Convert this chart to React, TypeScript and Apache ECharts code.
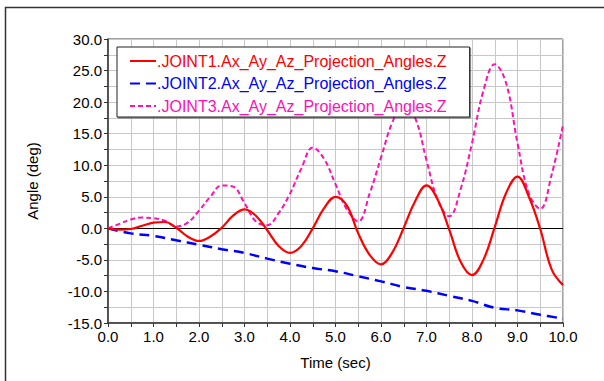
import React, { useEffect, useRef } from "react";
import * as echarts from "echarts";

const times = [0, 0.25, 0.5, 0.75, 1, 1.25, 1.5, 1.75, 2, 2.25, 2.5, 2.75, 3, 3.25, 3.5, 3.75, 4, 4.25, 4.5, 4.75, 5, 5.25, 5.5, 5.75, 6, 6.25, 6.5, 6.75, 7, 7.25, 7.5, 7.75, 8, 8.25, 8.5, 8.75, 9, 9.25, 9.5, 9.75, 10];
const joint1 = [0, -0.2, -0.1, 0.4, 0.9, 1.0, 0.1, -1.3, -2.0, -1.3, 0.1, 2.0, 3.0, 2.0, -0.3, -2.8, -3.9, -2.8, 0.0, 3.2, 5.0, 3.6, -0.8, -4.2, -5.7, -3.8, 0.1, 4.3, 6.8, 4.5, -0.2, -5.3, -7.4, -5.0, 0.2, 5.6, 8.2, 5.0, -0.1, -6.5, -9.0];
const joint3 = [0, 0.7, 1.4, 1.7, 1.6, 1.2, 0.3, 0.9, 2.8, 5.0, 6.8, 6.6, 4.0, 1.1, 0.5, 2.4, 5.5, 9.5, 12.8, 11.0, 7.0, 3.0, 1.1, 5.5, 11.2, 16.8, 19.7, 17.5, 10.8, 4.4, 1.9, 6.2, 13.5, 21.8, 26.0, 23.0, 13.5, 5.5, 3.1, 8.5, 16.4];
const times2 = [0, 0.5, 1, 1.5, 2, 2.5, 3, 3.5, 4, 4.5, 5, 5.5, 6, 6.5, 7, 7.5, 8, 8.5, 9, 9.5, 10];
const joint2 = [0, -0.8, -1.2, -1.9, -2.6, -3.3, -3.9, -4.8, -5.6, -6.3, -6.8, -7.6, -8.4, -9.3, -9.9, -10.7, -11.5, -12.6, -13.0, -13.7, -14.3];

const names = [
  ".JOINT1.Ax_Ay_Az_Projection_Angles.Z",
  ".JOINT2.Ax_Ay_Az_Projection_Angles.Z",
  ".JOINT3.Ax_Ay_Az_Projection_Angles.Z",
];
const colors = ["#ff0000", "#0000ff", "#ff10b4"];

const FONT = "Liberation Sans, Arial, sans-serif";

export default function App() {
  const ref = useRef<HTMLDivElement>(null);
  useEffect(() => {
    if (!ref.current) return;
    const chart = echarts.init(ref.current, undefined, { renderer: "svg" });
    const pair = (xs: number[], ys: number[]) => xs.map((x, i) => [x, ys[i]]);
    chart.setOption({
      animation: false,
      backgroundColor: "#ffffff",
      textStyle: { fontFamily: FONT },
      grid: { left: 108, top: 39, width: 455, height: 284, show: true, borderColor: "#444", borderWidth: 1, backgroundColor: "transparent" },
      legend: {
        left: 117,
        top: 47,
        orient: "vertical",
        itemWidth: 26,
        itemHeight: 16,
        itemGap: 6.5,
        padding: [6, 23, 3, 12],
        backgroundColor: "#ffffff",
        borderColor: "#222",
        borderWidth: 1,
        borderRadius: 0,
        shadowColor: "rgba(0,0,0,0.45)",
        shadowOffsetX: 1,
        shadowOffsetY: 1,
        shadowBlur: 1,
        selectedMode: false,
        itemStyle: { opacity: 0 },
        textStyle: { fontFamily: FONT, fontSize: 16, padding: [0, 0, 0, -4] },
        data: names.map((n, i) => ({ name: n, textStyle: { color: colors[i] } })),
      },
      xAxis: {
        type: "value",
        min: 0,
        max: 10,
        interval: 1,
        name: "Time (sec)",
        nameLocation: "middle",
        nameGap: 32,
        nameTextStyle: { fontFamily: FONT, fontSize: 15, color: "#000" },
        axisLine: { onZero: false, lineStyle: { color: "#333", width: 1.5 } },
        axisTick: { show: true, length: 4, lineStyle: { color: "#333" } },
        minorTick: { show: true, splitNumber: 2, length: 4, lineStyle: { color: "#333" } },
        axisLabel: { fontFamily: FONT, fontSize: 15, color: "#000", margin: 6, formatter: (v: number) => v.toFixed(1) },
        splitLine: { show: true, lineStyle: { color: "#c8c8c8", width: 1 } },
        minorSplitLine: { show: true, lineStyle: { color: "#c8c8c8", width: 1 } },
      },
      yAxis: {
        type: "value",
        min: -15,
        max: 30,
        interval: 5,
        name: "Angle (deg)",
        nameLocation: "middle",
        nameRotate: 90,
        nameGap: 68,
        nameTextStyle: { fontFamily: FONT, fontSize: 15, color: "#000" },
        axisLine: { show: true, onZero: false, lineStyle: { color: "#333", width: 1.5 } },
        axisTick: { show: true, length: 4, lineStyle: { color: "#333" } },
        minorTick: { show: true, splitNumber: 2, length: 4, lineStyle: { color: "#333" } },
        axisLabel: { fontFamily: FONT, fontSize: 15, color: "#000", margin: 6, formatter: (v: number) => v.toFixed(1) },
        splitLine: { show: true, lineStyle: { color: "#c8c8c8", width: 1 } },
        minorSplitLine: { show: true, lineStyle: { color: "#c8c8c8", width: 1 } },
      },
      series: [
        {
          name: names[0],
          type: "line",
          data: pair(times, joint1),
          symbol: "none",
          smooth: 0.4,
          color: colors[0],
          lineStyle: { color: colors[0], width: 2.2, type: "solid" },
          z: 4,
          markLine: {
            silent: true,
            symbol: ["none", "none"],
            label: { show: false },
            lineStyle: { color: "#000", width: 1, type: "solid" },
            data: [{ yAxis: 0 }],
            z: 1,
          },
        },
        {
          name: names[1],
          type: "line",
          data: pair(times2, joint2),
          symbol: "none",
          smooth: 0.4,
          color: colors[1],
          lineStyle: { color: colors[1], width: 2.5, type: [10, 6] },
          z: 3,
        },
        {
          name: names[2],
          type: "line",
          data: pair(times, joint3),
          symbol: "none",
          smooth: 0.4,
          color: colors[2],
          lineStyle: { color: colors[2], width: 2, type: [5, 3] },
          z: 3,
        },
      ],
      graphic: [
        {
          type: "rect",
          shape: { x: 5.5, y: 7.5, width: 640, height: 420 },
          style: { fill: "none", stroke: "#333", lineWidth: 1.5 },
          silent: true,
        },
      ],
    });
    return () => chart.dispose();
  }, []);
  return <div ref={ref} style={{ position: "fixed", left: 0, top: 0, width: 604, height: 381 }} />;
}
